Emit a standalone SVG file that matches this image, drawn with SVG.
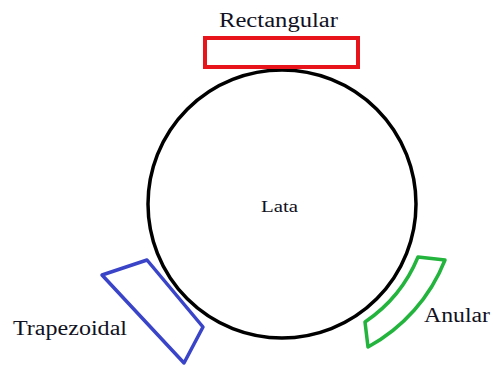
<svg xmlns="http://www.w3.org/2000/svg" width="493" height="367" viewBox="0 0 493 367">
<style>
text{font-family:"Liberation Serif","DejaVu Serif",serif;fill:#111122}
.lbl{font-size:20px}
</style>
<rect width="493" height="367" fill="#fff"/>
<g id="lata">
<circle cx="282" cy="204" r="134" fill="none" stroke="#000" stroke-width="3.5"/>
<text x="261" y="212" font-size="17" textLength="37" lengthAdjust="spacingAndGlyphs">Lata</text>
</g>
<g id="rectangular">
<rect x="205" y="38" width="153" height="29" fill="none" stroke="#e8141c" stroke-width="4"/>
<text class="lbl" x="219" y="27" textLength="119" lengthAdjust="spacingAndGlyphs">Rectangular</text>
</g>
<g id="trapezoidal">
<polygon points="102,275 147,260 203,327 184,363" fill="none" stroke="#3a44c8" stroke-width="3.5" stroke-linejoin="round"/>
<text class="lbl" x="13" y="335" textLength="114" lengthAdjust="spacingAndGlyphs">Trapezoidal</text>
</g>
<g id="anular">
<path d="M418,257 L445,260 A170,170 0 0 1 368,347 L365,322 A145,145 0 0 0 418,257 Z" fill="none" stroke="#22b43c" stroke-width="3.5" stroke-linejoin="round"/>
<text class="lbl" x="424" y="322" textLength="66" lengthAdjust="spacingAndGlyphs">Anular</text>
</g>
<g id="connectors"/>
</svg>
